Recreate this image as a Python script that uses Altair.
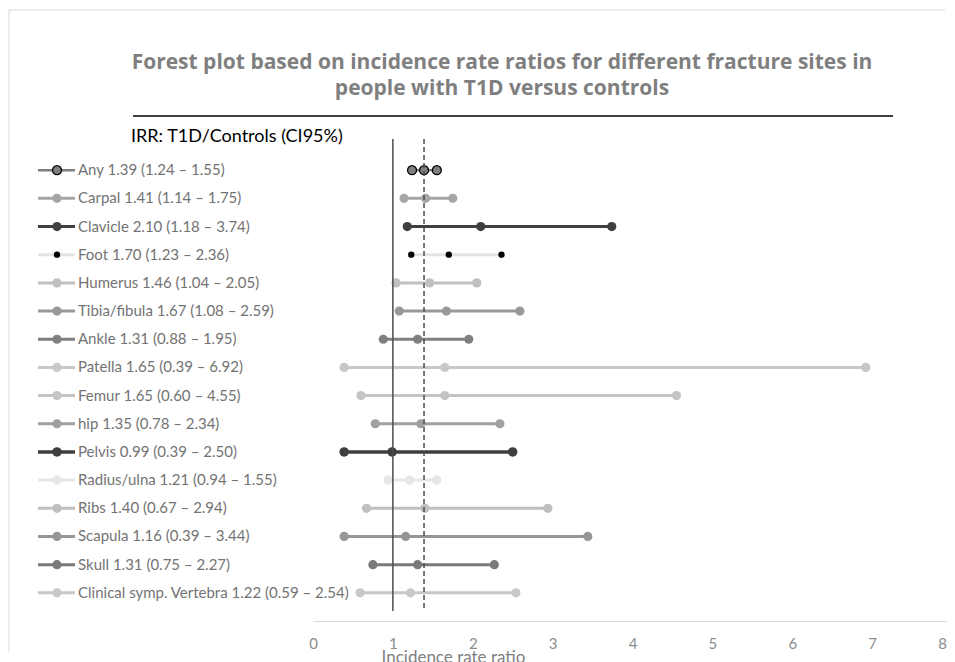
import altair as alt
import pandas as pd

# ---------------- data ----------------
sites = ["Any", "Carpal", "Clavicle", "Foot", "Humerus", "Tibia/fibula", "Ankle",
         "Patella", "Femur", "hip", "Pelvis", "Radius/ulna", "Ribs", "Scapula",
         "Skull", "Clinical symp. Vertebra"]
irr = [1.39, 1.41, 2.10, 1.70, 1.46, 1.67, 1.31, 1.65, 1.65, 1.35, 0.99, 1.21, 1.40, 1.16, 1.31, 1.22]
ci_low = [1.24, 1.14, 1.18, 1.23, 1.04, 1.08, 0.88, 0.39, 0.60, 0.78, 0.39, 0.94, 0.67, 0.39, 0.75, 0.59]
ci_high = [1.55, 1.75, 3.74, 2.36, 2.05, 2.59, 1.95, 6.92, 4.55, 2.34, 2.50, 1.55, 2.94, 3.44, 2.27, 2.54]

line_colors = ["#7f7f7f", "#a6a6a6", "#404040", "#e3e3e3", "#c0c0c0", "#999999", "#808080",
               "#c8c8c8", "#c4c4c4", "#a0a0a0", "#3f3f3f", "#e6e6e6", "#bfbfbf", "#969696",
               "#7a7a7a", "#c8c8c8"]
marker_fills = ["#808080", "#a6a6a6", "#404040", "#000000", "#c0c0c0", "#999999", "#808080",
                "#c8c8c8", "#c4c4c4", "#a0a0a0", "#3f3f3f", "#e6e6e6", "#bfbfbf", "#969696",
                "#7a7a7a", "#c8c8c8"]
marker_strokes = ["#000000"] + marker_fills[1:]
marker_stroke_widths = [1.3] + [0] * 15
marker_sizes = [80, 85, 85, 40, 85, 85, 85, 85, 85, 85, 90, 85, 85, 85, 85, 85]
line_widths = [2.5, 3, 3, 3, 3, 3, 3, 3, 3, 3, 3.5, 3, 3, 3, 3, 3]

null_value = [1.0]
x_ticks = [0, 1, 2, 3, 4, 5, 6, 7, 8]

title_lines = ["Forest plot based on incidence rate ratios for different fracture sites in",
               "people with T1D versus controls"]
list_header = "IRR: T1D/Controls (CI95%)"
x_title = "Incidence rate ratio"

# ---------------- tables ----------------
df = pd.DataFrame({
    "site": sites, "irr": irr, "ci_low": ci_low, "ci_high": ci_high,
    "line_color": line_colors, "fill": marker_fills, "stroke": marker_strokes,
    "sw": marker_stroke_widths, "msize": marker_sizes, "lw": line_widths,
})
df["label"] = [f"{s} {e:.2f} ({l:.2f} \u2013 {h:.2f})" for s, e, l, h in zip(sites, irr, ci_low, ci_high)]

ref_df = pd.DataFrame({"v": null_value + [irr[0]], "kind": ["null", "overall"]})
one = pd.DataFrame({"k": [0]})

FONT = "Lato"
TFONT = "Open Sans"
W, H = 639, 479

XS = alt.Scale(domain=[0, 8], nice=False, zero=False)
AX = alt.Axis(values=x_ticks, title=x_title, domain=True, domainColor="#d9d9d9", domainWidth=1,
              ticks=False, tickSize=0, grid=False, labelColor="#8c8c8c", labelFont=FONT,
              labelFontSize=15, labelPadding=22, labelBaseline="middle", labelFlush=False,
              labelOffset={"condition": {"test": "datum.value >= 8", "value": -10}, "value": 0},
              titleFont=FONT, titleFontSize=17, titleFontWeight="normal", titleColor="#7f7f7f",
              titleX=140, titleY=36, titleAlign="center", titleBaseline="middle", titleAnchor="start")
Y = alt.Y("site:N", sort=sites, scale=alt.Scale(type="point", padding=1), axis=None)

base = alt.Chart(df)

border_left = alt.Chart(one).mark_rule(color="#d9d9d9", strokeWidth=1).encode(
    x=alt.value(-304), y=alt.value(-132), y2=alt.value(510))
border_top = alt.Chart(one).mark_rule(color="#d9d9d9", strokeWidth=1).encode(
    x=alt.value(-304), x2=alt.value(632), y=alt.value(-132))

ci_lines = base.mark_rule().encode(
    x=alt.X("ci_low:Q", scale=XS, axis=AX), x2="ci_high:Q", y=Y,
    color=alt.Color("line_color:N", scale=None),
    strokeWidth=alt.StrokeWidth("lw:Q", scale=None))

points = base.transform_fold(["ci_low", "irr", "ci_high"], as_=["which", "value"]).mark_point(
    filled=True, shape="circle", opacity=1).encode(
    x=alt.X("value:Q", scale=XS, axis=AX), y=Y,
    fill=alt.Fill("fill:N", scale=None), stroke=alt.Stroke("stroke:N", scale=None),
    strokeWidth=alt.StrokeWidth("sw:Q", scale=None), size=alt.Size("msize:Q", scale=None))

refs = alt.Chart(ref_df).mark_rule(color="#4d4d4d", strokeWidth=1.5).encode(
    x=alt.X("v:Q", scale=XS, axis=AX), y=alt.value(-3), y2=alt.value(H - 10),
    strokeDash=alt.StrokeDash("kind:N", scale=alt.Scale(domain=["null", "overall"],
                                                           range=[[1, 0], [5, 3]]), legend=None))

leg_lines = base.mark_rule().encode(
    x=alt.value(-275), x2=alt.value(-238), y=Y,
    color=alt.Color("line_color:N", scale=None),
    strokeWidth=alt.StrokeWidth("lw:Q", scale=None))
leg_points = base.mark_point(filled=True, shape="circle", opacity=1).encode(
    x=alt.value(-256), y=Y,
    fill=alt.Fill("fill:N", scale=None), stroke=alt.Stroke("stroke:N", scale=None),
    strokeWidth=alt.StrokeWidth("sw:Q", scale=None), size=alt.Size("msize:Q", scale=None))
leg_text = base.mark_text(align="left", baseline="middle", font=FONT, fontSize=15,
                          color="#737373").encode(x=alt.value(-235), y=Y, text="label:N")

title1 = alt.Chart(one).mark_text(text=title_lines[0], align="center", baseline="middle",
                                  font=TFONT, fontSize=21, fontWeight="bold", color="#7f7f7f").encode(
    x=alt.value(189), y=alt.value(-79))
title2 = alt.Chart(one).mark_text(text=title_lines[1], align="center", baseline="middle",
                                  font=TFONT, fontSize=21, fontWeight="bold", color="#7f7f7f").encode(
    x=alt.value(189), y=alt.value(-53))
underline = alt.Chart(one).mark_rule(color="#000000", strokeWidth=1.5).encode(
    x=alt.value(-180), x2=alt.value(580), y=alt.value(-26))
header = alt.Chart(one).mark_text(text=list_header, align="left", baseline="middle",
                                  font=FONT, fontSize=18, color="#000000").encode(
    x=alt.value(-182), y=alt.value(-5))

chart = alt.layer(
    border_left, border_top, ci_lines, points, refs, leg_lines, leg_points, leg_text,
    title1, title2, underline, header
).properties(
    width=W, height=H,
    autosize=alt.AutoSizeParams(type="none"),
    padding={"left": 305, "top": 134, "right": -5, "bottom": 41},
).configure(
    background="white",
    view=alt.ViewConfig(strokeWidth=0, stroke="transparent"),
)

chart.save("out.html", embed_options={"renderer": "svg", "actions": False})
